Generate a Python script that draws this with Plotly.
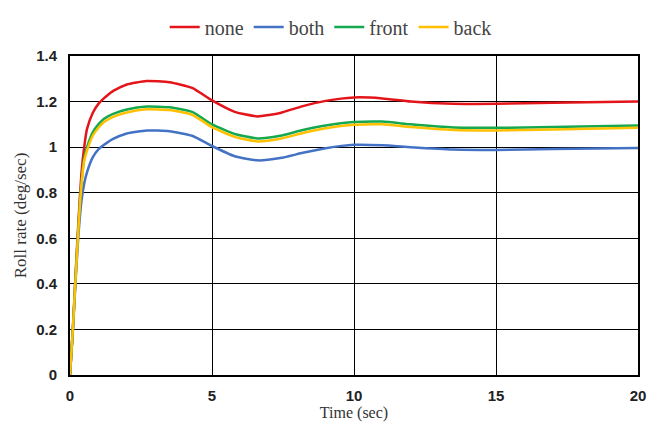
import plotly.graph_objects as go

time = [0, 0.1, 0.2, 0.3, 0.4, 0.5, 0.6, 0.8, 1.0, 1.2, 1.5, 2.0, 2.7, 3.5, 4.3, 5.0,
        5.8, 6.6, 7.4, 8.2, 9.0, 10.0, 11.0, 12.0, 13.5, 15, 17, 20]

none = [0, 0.2, 0.45, 0.68, 0.88, 1.0, 1.08, 1.15, 1.19, 1.215, 1.245, 1.275, 1.29, 1.285,
        1.26, 1.205, 1.155, 1.135, 1.15, 1.18, 1.203, 1.218, 1.214, 1.2, 1.19, 1.19, 1.195, 1.2]
both = [0, 0.19, 0.42, 0.62, 0.76, 0.84, 0.89, 0.955, 0.99, 1.01, 1.035, 1.06, 1.073, 1.07,
        1.05, 1.005, 0.96, 0.942, 0.952, 0.975, 0.995, 1.01, 1.008, 1.0, 0.99, 0.988, 0.992, 0.996]
front = [0, 0.2, 0.44, 0.66, 0.84, 0.95, 1.0, 1.065, 1.1, 1.125, 1.145, 1.165, 1.178, 1.175,
         1.155, 1.1, 1.058, 1.038, 1.05, 1.075, 1.095, 1.11, 1.112, 1.1, 1.086, 1.085, 1.088, 1.095]
back = [0, 0.2, 0.43, 0.65, 0.83, 0.94, 0.985, 1.05, 1.085, 1.11, 1.132, 1.152, 1.166, 1.163,
        1.142, 1.088, 1.045, 1.025, 1.037, 1.062, 1.083, 1.098, 1.1, 1.088, 1.075, 1.073, 1.077, 1.085]

series = [("none", none, "#E3151A"), ("both", both, "#4472C4"),
          ("front", front, "#16A84F"), ("back", back, "#FFC000")]

fig = go.Figure()
for name, vals, col in series:
    fig.add_trace(go.Scatter(x=time, y=vals, name=name, mode="lines",
                             line=dict(color=col, width=2.5, shape="spline", smoothing=0.5)))

# the page body adds an 8px margin, so the figure is sized to fit the window
fig.update_layout(
    width=653, height=418,
    margin=dict(l=62, r=23, t=48, b=51, autoexpand=False),
    paper_bgcolor="white", plot_bgcolor="white",
    showlegend=True,
    legend=dict(orientation="h", x=0.459, xanchor="center", y=1.091, yanchor="middle",
                font=dict(family="Liberation Serif", size=20, color="#444"),
                itemwidth=30, tracegroupgap=0, bgcolor="rgba(0,0,0,0)"),
    xaxis=dict(range=[0, 20], dtick=5, tick0=0, showgrid=True, gridcolor="black", gridwidth=1,
               showline=True, linecolor="black", linewidth=2, mirror=True, zeroline=False,
               ticks="", ticklabelstandoff=6, automargin=False,
               tickfont=dict(family="Liberation Sans", size=15, color="#222", weight="bold"),
               title=dict(text="Time (sec)", standoff=3,
                          font=dict(family="Liberation Serif", size=16, color="#333"))),
    yaxis=dict(range=[0, 1.4], dtick=0.2, tick0=0, showgrid=True, gridcolor="black", gridwidth=1,
               showline=True, linecolor="black", linewidth=2, mirror=True, zeroline=False,
               ticks="", ticklabelstandoff=8, automargin=False,
               tickfont=dict(family="Liberation Sans", size=15, color="#222", weight="bold"),
               title=dict(text="Roll rate (deg/sec)", standoff=5,
                          font=dict(family="Liberation Serif", size=17, color="#333"))),
)

fig.write_html("out.html")
